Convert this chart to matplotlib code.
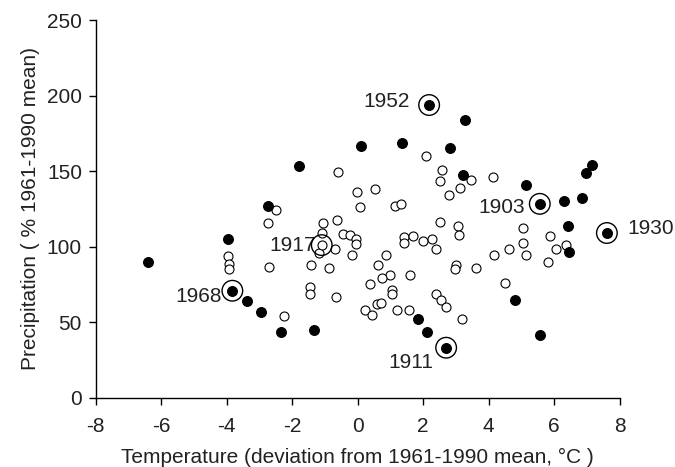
import numpy as np
import matplotlib.pyplot as plt

plt.rcParams['font.family'] = ['Liberation Sans', 'DejaVu Sans']
plt.rcParams['axes.unicode_minus'] = False

# open circles: ordinary years
open_t = [-2.49, -2.73, -0.60, -0.03, 0.54, 0.07, -1.06, -0.63, 1.15, 1.32,
          -1.09, -0.46, -0.23, -0.05, -0.06, -1.18, -0.69, -0.18, -3.95, -3.93,
          -3.93, -2.70, -1.42, -0.89, -1.46, -1.46, -0.67, -2.26, 0.85, 0.61,
          0.98, 0.74, 0.38, 1.06, 1.04, 0.58, 0.70, 0.21, 0.44, 1.19,
          1.58, 2.09, 2.58, 2.51, 3.45, 4.12, 3.12, 2.78, 2.51, 3.07,
          3.10, 5.04, 5.05, 1.41, 1.41, 1.68, 1.98, 2.26, 2.38, 4.61,
          4.15, 5.15, 5.88, 6.35, 6.05, 5.81, 3.01, 2.98, 3.61, 1.61,
          4.51, 2.38, 2.54, 2.71, 3.18]
open_p = [124.0, 115.5, 149.5, 136.0, 137.9, 126.1, 115.8, 117.8, 126.8, 128.1,
          109.4, 108.3, 107.9, 105.2, 101.7, 95.9, 98.3, 94.4, 94.0, 88.5,
          85.2, 86.6, 87.9, 85.7, 73.3, 68.7, 66.5, 53.9, 94.3, 87.8,
          81.5, 79.1, 75.1, 71.1, 68.9, 62.4, 62.8, 58.4, 54.6, 58.1,
          58.1, 160.2, 150.8, 143.6, 144.4, 146.2, 138.9, 134.4, 116.7, 114.0,
          107.9, 112.2, 102.6, 106.6, 102.5, 107.1, 103.9, 105.1, 98.8, 98.8,
          94.3, 94.3, 107.1, 101.1, 98.5, 90.1, 88.1, 85.6, 85.7, 81.6,
          75.8, 68.8, 64.6, 60.3, 51.9]

# filled circles: extreme years
fill_t = [-2.73, -1.79, 0.09, 1.34, 2.82, 3.29, 3.21, 5.14, 6.29, 6.85,
          6.96, 7.15, 6.42, 6.45, 4.81, 5.57, 1.84, 2.12, -3.95, -6.42,
          -3.39, -2.96, -2.34, -1.33]
fill_p = [127.0, 153.4, 166.9, 168.5, 165.5, 183.7, 147.3, 141.0, 130.3, 132.4,
          148.6, 154.1, 113.6, 96.3, 64.7, 41.4, 51.9, 43.3, 104.9, 89.7,
          63.8, 56.8, 43.6, 44.9]

# labelled years
years = ['1952', '1903', '1930', '1917', '1968', '1911']
year_t = [2.18, 5.56, 7.61, -1.10, -3.83, 2.70]
year_p = [193.8, 128.4, 109.1, 101.1, 70.9, 33.2]
year_filled = [True, True, True, False, True, True]

fig = plt.figure(figsize=(6.75, 4.67), dpi=100)
ax = fig.add_axes([0.142, 0.148, 0.776, 0.809])

ax.scatter(open_t, open_p, s=42, facecolor='white', edgecolor='black', linewidth=0.8, zorder=3)
ax.scatter(fill_t, fill_p, s=50, facecolor='black', edgecolor='black', linewidth=0.8, zorder=3)

offsets = {'1952': (-19, 4), '1903': (-15, -4), '1930': (20, 5),
           '1917': (-6, 0), '1968': (-10, -6), '1911': (-13, -15)}
for yr, t, p, f in zip(years, year_t, year_p, year_filled):
    if f:
        ax.scatter([t], [p], s=50, facecolor='black', edgecolor='black', linewidth=0.8, zorder=3)
    else:
        ax.scatter([t], [p], s=42, facecolor='white', edgecolor='black', linewidth=0.8, zorder=3)
    ax.scatter([t], [p], s=220, facecolor='none', edgecolor='black', linewidth=1.0, zorder=4)
    dx, dy = offsets[yr]
    ax.annotate(yr, (t, p), xytext=(dx * 0.72, dy * 0.72), textcoords='offset points',
                ha='left' if dx > 0 else 'right', va='center', fontsize=15, color='#222222')

ax.set_xlim(-8, 8)
ax.set_ylim(0, 250)
ax.set_xticks(np.arange(-8, 9, 2))
ax.set_yticks(np.arange(0, 251, 50))
for s in ['top', 'right']:
    ax.spines[s].set_visible(False)
for s in ['left', 'bottom']:
    ax.spines[s].set_linewidth(1.0)
ax.tick_params(direction='out', length=5, width=1.0, labelsize=15, colors='black', labelcolor='#222222')
ax.tick_params(axis='x', pad=9)
ax.tick_params(axis='y', pad=5)
ax.set_xlabel('Temperature (deviation from 1961-1990 mean, °C )', fontsize=15, color='#222222', labelpad=8)
ax.set_ylabel('Precipitation ( % 1961-1990 mean)', fontsize=15, color='#222222', labelpad=5)

fig.savefig('out.png', dpi=100)
